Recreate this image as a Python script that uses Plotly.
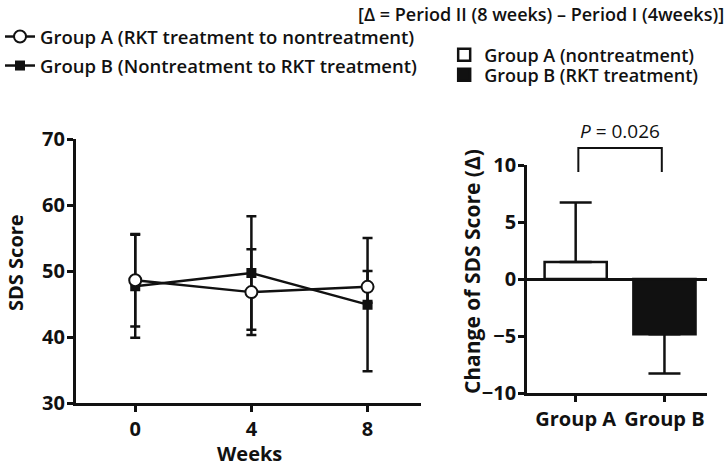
import plotly.graph_objects as go

weeks = [0, 4, 8]
groupA_sds = [48.6, 46.8, 47.6]
groupA_sd = [7.0, 6.5, 2.4]
groupB_sds = [47.7, 49.7, 44.9]
groupB_sd = [7.8, 8.6, 10.1]

bar_groups = ['Group A', 'Group B']
bar_change = [1.5, -4.85]
bar_err_up = [5.2, 0]
bar_err_down = [0, 3.45]

FONT = 'Open Sans'
K = '#111111'
W, H = 728, 467

def px_x(p):
    return p / W

def px_y(p):
    return 1 - p / H

fig = go.Figure()

# left panel: SDS score over weeks (B first so the open circles sit on top)
fig.add_trace(go.Scatter(
    x=weeks, y=groupB_sds, mode='lines+markers',
    name='Group B (Nontreatment to RKT treatment)',
    line=dict(color=K, width=2.5),
    marker=dict(symbol='square', size=10, color=K),
    error_y=dict(type='data', array=groupB_sd, color=K, thickness=2.5, width=5),
    xaxis='x', yaxis='y', legend='legend2', showlegend=True))
fig.add_trace(go.Scatter(
    x=weeks, y=groupA_sds, mode='lines+markers',
    name='Group A (RKT treatment to nontreatment)',
    line=dict(color=K, width=2.5),
    marker=dict(symbol='circle', size=12, color='white', line=dict(color=K, width=2)),
    error_y=dict(type='data', array=groupA_sd, color=K, thickness=2.5, width=5),
    xaxis='x', yaxis='y', legend='legend', showlegend=True))

# right panel: change bars
fig.add_trace(go.Bar(
    x=[bar_groups[0]], y=[bar_change[0]], name='Group A (nontreatment)',
    marker=dict(color='white', line=dict(color=K, width=2.5)), width=0.7,
    error_y=dict(type='data', symmetric=False, array=[bar_err_up[0]], arrayminus=[bar_err_down[0]],
                 color=K, thickness=2.5, width=16),
    xaxis='x2', yaxis='y2', legend='legend3', showlegend=True))
fig.add_trace(go.Bar(
    x=[bar_groups[1]], y=[bar_change[1]], name='Group B (RKT treatment)',
    marker=dict(color=K, line=dict(color=K, width=2.5)), width=0.7,
    error_y=dict(type='data', symmetric=False, array=[bar_err_up[1]], arrayminus=[bar_err_down[1]],
                 color=K, thickness=2.5, width=16),
    xaxis='x2', yaxis='y2', legend='legend4', showlegend=True))

tickf = dict(family=FONT, size=20, color=K, weight='bold')
titlef = dict(family=FONT, size=20, color=K, weight='bold')
legf = dict(family=FONT, size=18.5, color=K, weight=600)
legf_small = dict(family=FONT, size=18, color=K, weight=600)

def leg(x, y, font=legf):
    return dict(x=px_x(x), y=px_y(y), xanchor='left', yanchor='middle',
                bgcolor='rgba(0,0,0,0)', font=font, itemwidth=30)

axis_common = dict(showline=True, linecolor=K, linewidth=2.5, ticks='outside', ticklen=6,
                   tickwidth=2.5, tickcolor=K, tickfont=tickf, showgrid=False, automargin=False)

fig.update_layout(
    width=W, height=H,
    margin=dict(l=0, r=0, t=0, b=0),
    paper_bgcolor='white', plot_bgcolor='white',
    showlegend=True,
    barmode='overlay',
    font=dict(family=FONT, color=K),
    xaxis=dict(domain=[px_x(73), px_x(420)], range=[-2.05, 9.85], tickvals=weeks, zeroline=False,
               anchor='y', **axis_common),
    yaxis=dict(domain=[px_y(403), px_y(139)], range=[30, 70], tickvals=[30, 40, 50, 60, 70],
               zeroline=False, anchor='x', ticklabelstandoff=-2, **axis_common),
    xaxis2=dict(domain=[px_x(526), px_x(707)], range=[-0.55, 1.48], type='category',
                zeroline=False, anchor='y2', **axis_common),
    yaxis2=dict(domain=[px_y(393), px_y(165)], range=[-10, 10], tickvals=[-10, -5, 0, 5, 10],
                ticktext=['\u221210', '\u22125', '0', '5', '10'],
                zeroline=True, zerolinecolor=K, zerolinewidth=2.5,
                anchor='x2', ticklabelstandoff=-2, **axis_common),
    legend=leg(-3, 37),
    legend2=leg(-3, 66),
    legend3=leg(443, 55, legf_small),
    legend4=leg(443, 75, legf_small),
    annotations=[
        dict(text='[\u0394 = Period II (8 weeks) \u2013 Period I (4weeks)]', x=px_x(726), y=px_y(14),
             xref='paper', yref='paper', xanchor='right', yanchor='middle', showarrow=False,
             font=dict(family=FONT, size=18, color=K, weight=600)),
        dict(text='<i>P</i> = 0.026', x=0.5, y=px_y(131), xref='x2', yref='paper',
             xanchor='center', yanchor='middle', showarrow=False,
             font=dict(family=FONT, size=19, color=K)),
        # axis titles
        dict(text='SDS Score', x=px_x(12), y=px_y(262), xref='paper', yref='paper',
             xanchor='center', yanchor='middle', textangle=-90, showarrow=False, font=titlef),
        dict(text='Weeks', x=px_x(248), y=px_y(453), xref='paper', yref='paper',
             xanchor='center', yanchor='middle', showarrow=False, font=titlef),
        dict(text='Change of SDS Score (\u0394)', x=px_x(471), y=px_y(272), xref='paper',
             yref='paper', xanchor='center', yanchor='middle', textangle=-90, showarrow=False,
             font=dict(family=FONT, size=21, color=K, weight='bold')),
    ],
    shapes=[
        dict(type='path', xref='x2', yref='paper',
             path=f'M 0.03,{px_y(172)} L 0.03,{px_y(148)} L 0.97,{px_y(148)} L 0.97,{px_y(172)}',
             line=dict(color=K, width=2)),
    ],
)

fig.write_html('out.html', config={'displayModeBar': False},
               post_script="document.body.style.margin='0px';")
